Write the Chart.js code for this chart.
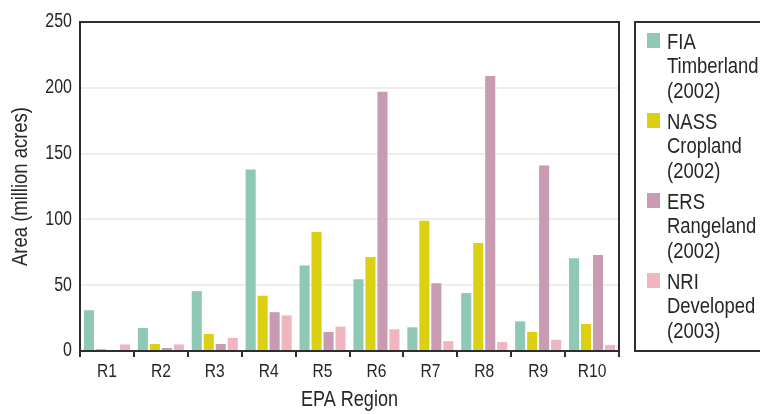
<!DOCTYPE html>
<html>
<head>
<meta charset="utf-8">
<script src="https://cdn.jsdelivr.net/npm/chart.js@4.4.1/dist/chart.umd.min.js"></script>
<style>
  html, body { margin: 0; padding: 0; background: #ffffff; }
  #wrap { position: relative; width: 760px; height: 414px; overflow: hidden; background: #fff; }
  #c { position: absolute; left: 0; top: 0; }
  #legend {
    position: absolute; left: 634px; top: 21px; width: 150px; height: 327px;
    border: 2px solid #2e2e2e; box-sizing: content-box;
    font-family: 'Liberation Sans', Arial, sans-serif;
    font-size: 22.5px; line-height: 24.5px; color: #262626;
  }
  .item { position: absolute; left: 0; }
  .sw { position: absolute; left: 11px; width: 13px; height: 15px; }
  .tx { position: absolute; left: 31px; top: 0; white-space: nowrap; transform: scaleX(0.82); transform-origin: 0 0; }
</style>
</head>
<body>
<div id="wrap">
  <canvas id="c" width="760" height="414"></canvas>
  <div id="legend"></div>
</div>
<script>
const categories = ['R1','R2','R3','R4','R5','R6','R7','R8','R9','R10'];
const seriesNames = [
  ['FIA','Timberland','(2002)'],
  ['NASS','Cropland','(2002)'],
  ['ERS','Rangeland','(2002)'],
  ['NRI','Developed','(2003)']
];
const fiaTimberland = [31, 17.5, 45.5, 138, 65, 54.5, 18, 44, 22.5, 70.5];
const nassCropland  = [1.5, 5.3, 13, 42, 90.5, 71.5, 99, 82, 14.5, 20.5];
const ersRangeland  = [0.5, 2.3, 5.3, 29.5, 14.5, 197, 51.5, 209, 141, 73];
const nriDeveloped  = [5, 5, 10, 27, 18.5, 16.5, 7.5, 6.8, 8.5, 4.6];
const seriesColors = ['#8fc8b4', '#dcd012', '#c89bb3', '#efb6c0'];
const yTicks = [0, 50, 100, 150, 200, 250];

const FONT = "'Liberation Sans', Arial, sans-serif";
const NARROW = 0.82;
const TEXT = '#262626';
const values = [fiaTimberland, nassCropland, ersRangeland, nriDeveloped];

// HTML legend
const leg = document.getElementById('legend');
seriesNames.forEach((lines, i) => {
  const it = document.createElement('div');
  it.className = 'item';
  it.style.top = (6.5 + 80 * i) + 'px';
  const sw = document.createElement('div');
  sw.className = 'sw';
  sw.style.top = '3.5px';
  sw.style.background = seriesColors[i];
  const tx = document.createElement('div');
  tx.className = 'tx';
  tx.innerHTML = lines.join('<br>');
  it.appendChild(sw); it.appendChild(tx);
  leg.appendChild(it);
});

// condensed text rendering on the canvas (narrow sans look)
const canvas = document.getElementById('c');
const ctx = canvas.getContext('2d');
const origFill = ctx.fillText.bind(ctx);
const origMeasure = ctx.measureText.bind(ctx);
ctx.fillText = function (text, x, y, maxWidth) {
  ctx.save();
  ctx.translate(x, y);
  ctx.scale(NARROW, 1);
  origFill(text, 0, 0);
  ctx.restore();
};
ctx.measureText = function (text) {
  const m = origMeasure(text);
  return { width: m.width * NARROW, actualBoundingBoxAscent: m.actualBoundingBoxAscent, actualBoundingBoxDescent: m.actualBoundingBoxDescent };
};

const framePlugin = {
  id: 'frame',
  afterDatasetsDraw(chart) {
    const a = chart.chartArea, c = chart.ctx;
    c.save();
    c.strokeStyle = '#2e2e2e';
    c.lineWidth = 2;
    c.strokeRect(a.left, a.top, a.right - a.left, a.bottom - a.top);
    c.restore();
  }
};

new Chart(canvas, {
  type: 'bar',
  data: {
    labels: categories,
    datasets: values.map((v, i) => ({
      label: seriesNames[i].join(' '),
      data: v,
      backgroundColor: seriesColors[i],
      borderWidth: 0,
      categoryPercentage: 0.89,
      barPercentage: 0.84
    }))
  },
  options: {
    responsive: false,
    animation: false,
    devicePixelRatio: 1,
    layout: { padding: { left: 0, top: 22, right: 141, bottom: 0 } },
    plugins: { legend: { display: false }, tooltip: { enabled: false } },
    scales: {
      x: {
        afterFit(s) { s.height = 63; },
        border: { display: true, color: '#2e2e2e', width: 2 },
        grid: { offset: true, drawOnChartArea: false, drawTicks: true, tickLength: 6, color: '#2e2e2e', lineWidth: 2 },
        ticks: { color: TEXT, font: { family: FONT, size: 19 }, padding: 3, maxRotation: 0 },
        title: { display: true, text: 'EPA Region', color: TEXT, font: { family: FONT, size: 22 }, padding: { top: 0, bottom: 1 } }
      },
      y: {
        min: 0, max: 250,
        afterFit(s) { s.width = 80; },
        afterBuildTicks(s) { s.ticks = yTicks.map(v => ({ value: v })); },
        border: { display: true, color: '#2e2e2e', width: 2 },
        grid: { drawTicks: false, color: '#eeeeea', lineWidth: 2 },
        ticks: { color: TEXT, font: { family: FONT, size: 19.5 }, padding: 8 },
        title: { display: true, text: 'Area (million acres)', color: TEXT, font: { family: FONT, size: 22.5 }, padding: { top: 7, bottom: 0 } }
      }
    }
  },
  plugins: [framePlugin]
});
</script>
</body>
</html>
